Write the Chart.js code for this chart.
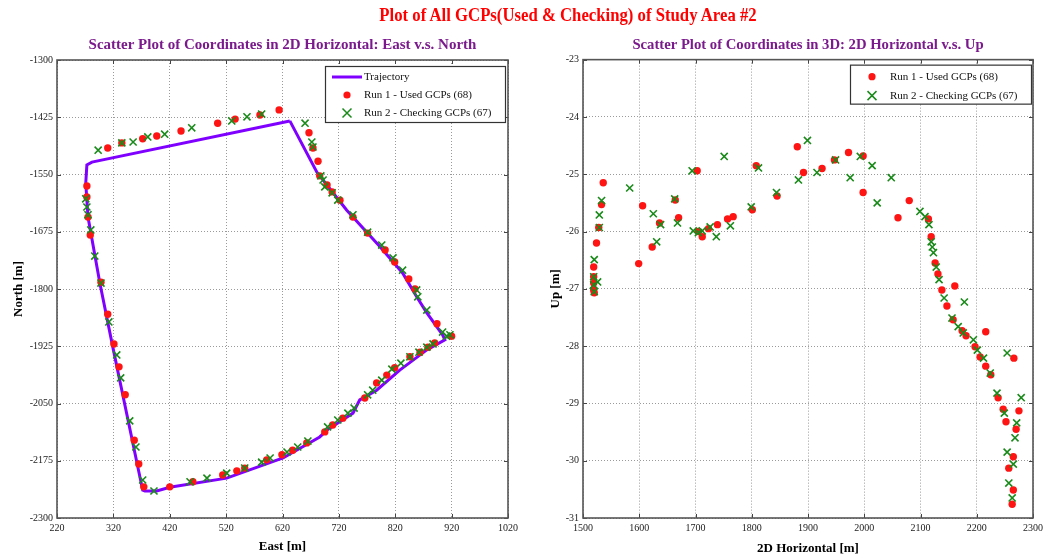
<!DOCTYPE html>
<html>
<head>
<meta charset="utf-8">
<script src="https://cdn.jsdelivr.net/npm/chart.js@4/dist/chart.umd.min.js"></script>
<style>
  html,body{margin:0;padding:0;background:#fff;}
  body{width:1049px;height:558px;position:relative;overflow:hidden;}
  #mainTitle{position:absolute;left:327px;top:4px;width:482px;text-align:center;white-space:nowrap;
    font-family:"Liberation Serif","Times New Roman",serif;font-size:19px;font-weight:bold;color:#ff0000;
    transform:scaleX(0.88);transform-origin:50% 50%;}
  #lw{position:absolute;left:0;top:0;width:530px;height:558px;}
  #rw{position:absolute;left:530px;top:0;width:519px;height:558px;}
</style>
</head>
<body>
<div id="lw"><canvas id="left" width="530" height="558"></canvas></div>
<div id="rw"><canvas id="right" width="519" height="558"></canvas></div>
<div id="mainTitle">Plot of All GCPs(Used &amp; Checking) of Study Area #2</div>
<script>
// ---------------- DATA ----------------
// Left chart: East vs North
const trajE = [633, 681, 734, 793, 833, 858, 876, 904, 908, 876, 828, 787, 757, 745, 699, 686, 621, 521, 420, 397, 376, 372, 367, 319, 296, 275, 271, 273, 282, 633];
const trajN = [-1433, -1545, -1628, -1708, -1765, -1817, -1852, -1900, -1911, -1933, -1977, -2021, -2042, -2071, -2108, -2123, -2169, -2213, -2233, -2241, -2241, -2239, -2210, -1927, -1787, -1643, -1569, -1529, -1523, -1433];

const run1E = [310, 335, 372, 397, 440, 505, 536, 580, 614,
  667, 674, 683, 686, 699, 708, 722, 745, 771, 802, 819, 844, 855, 894, 920,
  890, 878, 864, 846, 819, 805, 787, 766, 727, 709, 695, 663, 638, 619, 592, 553, 539, 514, 461, 420, 374,
  365, 357, 341, 330, 321, 310, 298, 279, 275, 273, 273];
const run1N = [-1492, -1481, -1472, -1466, -1455, -1438, -1429, -1420, -1409,
  -1459, -1492, -1521, -1553, -1573, -1588, -1606, -1643, -1678, -1715, -1741, -1778, -1800, -1876, -1903,
  -1918, -1927, -1938, -1948, -1972, -1988, -2005, -2038, -2082, -2097, -2112, -2136, -2152, -2162, -2173, -2191, -2197, -2206, -2221, -2232, -2232,
  -2182, -2130, -2031, -1970, -1920, -1855, -1785, -1682, -1643, -1599, -1575];

const run2E = [293, 335, 355, 381, 411, 459, 530, 557, 583,
  660, 672, 674, 688, 692, 695, 708, 718, 745, 771, 796, 816, 833, 858, 860, 876, 904, 917,
  911, 887, 876, 862, 846, 830, 814, 796, 780, 771, 747, 736, 718, 700, 665, 647, 628, 598, 583, 553, 521, 486, 456, 392,
  372, 360, 349, 333, 326, 312, 298, 287, 280, 275, 273, 271];
const run2N = [-1497, -1481, -1479, -1468, -1462, -1448, -1433, -1424, -1418,
  -1438, -1479, -1490, -1553, -1562, -1577, -1590, -1606, -1638, -1676, -1704, -1732, -1759, -1802, -1817, -1846, -1894, -1900,
  -1903, -1920, -1927, -1938, -1948, -1962, -1975, -1999, -2021, -2031, -2060, -2071, -2086, -2101, -2132, -2145, -2156, -2169, -2178, -2191, -2202, -2213, -2221, -2241,
  -2217, -2145, -2088, -1994, -1944, -1872, -1787, -1728, -1671, -1638, -1621, -1603];

// Right chart: 2D Horizontal vs Up
const run1H = [1536, 1533, 1528, 1524, 1519, 1519, 1519, 1519, 1520, 1599, 1606, 1623, 1636, 1670, 1664, 1703, 1705, 1712, 1723, 1739, 1757, 1767, 1801, 1808, 1845, 1881, 1892,
  1925, 1947, 1972, 1998, 1998, 2060, 2080, 2114, 2119, 2126, 2131, 2138, 2147, 2161, 2158, 2174, 2181, 2197, 2206, 2216, 2225, 2216, 2238, 2247, 2252, 2266, 2275, 2270, 2265, 2257, 2265, 2263];
const run1U = [-25.15, -25.53, -25.93, -26.20, -26.62, -26.79, -26.90, -27.02, -27.07, -26.56, -25.55, -26.27, -25.85, -25.76, -25.45, -24.94, -26.00, -26.09, -25.95, -25.88, -25.78, -25.74, -25.62, -24.85, -25.38, -24.52, -24.97,
  -24.90, -24.75, -24.62, -24.68, -25.32, -25.76, -25.46, -25.78, -26.09, -26.55, -26.74, -27.02, -27.30, -26.95, -27.54, -27.73, -27.82, -28.01, -28.19, -28.35, -28.50, -27.75, -28.90, -29.10, -29.32, -28.21, -29.13, -29.45, -29.93, -30.13, -30.51, -30.76];

const run2H = [1520, 1519, 1526, 1519, 1520, 1529, 1529, 1533, 1583, 1625, 1631, 1638, 1663, 1668, 1694, 1696, 1705, 1712, 1726, 1737, 1751, 1762, 1799, 1812, 1844, 1883, 1899, 1916,
  1949, 1975, 1993, 2014, 2023, 2048, 2099, 2108, 2115, 2119, 2121, 2123, 2128, 2133, 2142, 2178, 2156, 2167, 2176, 2194, 2201, 2212, 2224, 2254, 2236, 2249, 2279, 2271, 2268, 2254, 2265, 2257, 2263];
const run2U = [-26.49, -26.79, -26.88, -26.93, -27.05, -25.93, -25.71, -25.46, -25.24, -25.69, -26.18, -25.88, -25.43, -25.85, -24.94, -25.99, -26.02, -25.99, -25.92, -26.09, -24.69, -25.90, -25.57, -24.89, -25.32, -25.10, -24.41, -24.97,
  -24.75, -25.06, -24.69, -24.85, -25.50, -25.06, -25.65, -25.74, -25.88, -26.18, -26.27, -26.37, -26.62, -26.84, -27.16, -27.23, -27.51, -27.66, -27.77, -27.89, -28.07, -28.21, -28.47, -28.12, -28.82, -29.17, -28.90, -29.34, -29.60, -29.85, -30.06, -30.39, -30.65];

const labelTraj = 'Trajectory';
const labelRun1 = 'Run 1 - Used GCPs (68)';
const labelRun2 = 'Run 2 - Checking GCPs (67)';
const leftTitle = 'Scatter Plot of Coordinates in 2D Horizontal: East v.s. North';
const rightTitle = 'Scatter Plot of Coordinates in 3D: 2D Horizontal v.s. Up';

// ---------------- STYLE ----------------
const SERIF = '"Liberation Serif", "Times New Roman", serif';
const RED = '#ff1414';
const GREEN = '#1a8a1a';
const PURPLE = '#8000ff';
const PURPLE_T = '#7a1a8c';

function pts(xs, ys){ return xs.map((x,i)=>({x:x, y:ys[i]})); }

function framePlugin(legendItems, legendBox){
  return {
    id:'frameAndLegend',
    afterDraw(chart){
      const ctx = chart.ctx, a = chart.chartArea, sx = chart.scales.x, sy = chart.scales.y;
      ctx.save();
      // inner tick marks
      ctx.strokeStyle = '#444'; ctx.lineWidth = 1;
      ctx.beginPath();
      sx.ticks.forEach((t,i)=>{ const p = Math.round(sx.getPixelForTick(i))+0.5;
        ctx.moveTo(p,a.bottom); ctx.lineTo(p,a.bottom-4); ctx.moveTo(p,a.top); ctx.lineTo(p,a.top+4); });
      sy.ticks.forEach((t,i)=>{ const p = Math.round(sy.getPixelForTick(i))+0.5;
        ctx.moveTo(a.left,p); ctx.lineTo(a.left+4,p); ctx.moveTo(a.right,p); ctx.lineTo(a.right-4,p); });
      ctx.stroke();
      // frame
      ctx.strokeStyle = '#555'; ctx.lineWidth = 1.6;
      ctx.strokeRect(a.left, a.top, a.right-a.left, a.bottom-a.top);
      // legend
      const bx = a.right - legendBox.rightOff - legendBox.w, by = a.top + legendBox.topOff;
      ctx.fillStyle = '#fff';
      ctx.fillRect(bx, by, legendBox.w, legendBox.h);
      ctx.strokeStyle = '#333'; ctx.lineWidth = 1.2;
      ctx.strokeRect(bx+0.5, by+0.5, legendBox.w, legendBox.h);
      ctx.font = '11px ' + SERIF;
      ctx.textBaseline = 'middle'; ctx.textAlign = 'left'; 
      legendItems.forEach((it, i)=>{
        const y = by + legendBox.firstRow + i*legendBox.rowH;
        const cx = bx + legendBox.symX;
        if (it.kind === 'line'){
          ctx.strokeStyle = PURPLE; ctx.lineWidth = 3;
          ctx.beginPath(); ctx.moveTo(cx-15, y); ctx.lineTo(cx+15, y); ctx.stroke();
        } else if (it.kind === 'dot'){
          ctx.fillStyle = RED; ctx.beginPath(); ctx.arc(cx, y, 3.6, 0, Math.PI*2); ctx.fill();
        } else {
          ctx.strokeStyle = GREEN; ctx.lineWidth = 1.5;
          ctx.beginPath(); ctx.moveTo(cx-4.5,y-4.5); ctx.lineTo(cx+4.5,y+4.5); ctx.moveTo(cx+4.5,y-4.5); ctx.lineTo(cx-4.5,y+4.5); ctx.stroke();
        }
        ctx.fillStyle = '#111';
        ctx.fillText(it.text, bx + legendBox.textX, y+0.5);
      });
      ctx.restore();
    }
  };
}

function axisCfg(min, max, step, title, isY, fitSize, titlePad){
  return {
    type:'linear', min:min, max:max,
    ticks:{ stepSize:step, autoSkip:false, color:'#222', padding:4,
      font:{family:SERIF, size:10}, maxRotation:0,
      callback:(v)=>String(v) },
    grid:{ color:'#9a9a9a', lineWidth:1, drawTicks:false },
    border:{ display:false, dash:[1,2] },
    title:{ display:true, text:title, color:'#000', font:{family:SERIF, size:13, weight:'bold'},
      padding: titlePad },
    afterFit:(s)=>{ if (isY) s.width = fitSize; else s.height = fitSize; }
  };
}

function titleCfg(text, size){
  return { display:true, text:text, color:PURPLE_T, fullSize:false,
    font:{family:SERIF, size:size, weight:'bold'}, padding:{top:36, bottom:6} };
}

const redDS = (data)=>({ label:labelRun1, data:data, pointStyle:'circle', pointRadius:3.7,
  backgroundColor:RED, borderColor:RED, borderWidth:0, pointHoverRadius:3.7, order:2, showLine:false });
const greenDS = (data)=>({ label:labelRun2, data:data, pointStyle:'crossRot', pointRadius:5,
  backgroundColor:GREEN, borderColor:GREEN, pointBorderWidth:1.6, borderWidth:1.6, pointHoverRadius:5, order:1, showLine:false });

new Chart(document.getElementById('left'), {
  type:'scatter',
  data:{ datasets:[
    { label:labelTraj, data:pts(trajE, trajN), showLine:true, borderColor:PURPLE, borderWidth:3,
      pointRadius:0, pointHoverRadius:0, fill:false, tension:0, order:3 },
    redDS(pts(run1E, run1N)),
    greenDS(pts(run2E, run2N))
  ]},
  options:{
    responsive:false, animation:false, events:[],
    layout:{ padding:{left:0, right:22, top:0, bottom:0} },
    plugins:{ legend:{display:false}, tooltip:{enabled:false}, title:titleCfg(leftTitle, 15) },
    scales:{
      x: axisCfg(220, 1020, 100, 'East [m]', false, 40, {top:0, bottom:4}),
      y: axisCfg(-2300, -1300, 125, 'North [m]', true, 57, {top:11, bottom:0})
    }
  },
  plugins:[ framePlugin(
    [{kind:'line', text:labelTraj},{kind:'dot', text:labelRun1},{kind:'cross', text:labelRun2}],
    {w:180, h:56, rightOff:3, topOff:6, firstRow:11, rowH:18, symX:22, textX:39}) ]
});

new Chart(document.getElementById('right'), {
  type:'scatter',
  data:{ datasets:[ redDS(pts(run1H, run1U)), greenDS(pts(run2H, run2U)) ]},
  options:{
    responsive:false, animation:false, events:[],
    layout:{ padding:{left:0, right:16, top:0, bottom:0} },
    plugins:{ legend:{display:false}, tooltip:{enabled:false}, title:titleCfg(rightTitle, 14.7) },
    scales:{
      x: axisCfg(1500, 2300, 100, '2D Horizontal [m]', false, 40, {top:0, bottom:2}),
      y: axisCfg(-31, -23, 1, 'Up [m]', true, 53, {top:18, bottom:0})
    }
  },
  plugins:[ framePlugin(
    [{kind:'dot', text:labelRun1},{kind:'cross', text:labelRun2}],
    {w:181, h:39, rightOff:2, topOff:5, firstRow:12, rowH:19, symX:22, textX:40}) ]
});
</script>
</body>
</html>
